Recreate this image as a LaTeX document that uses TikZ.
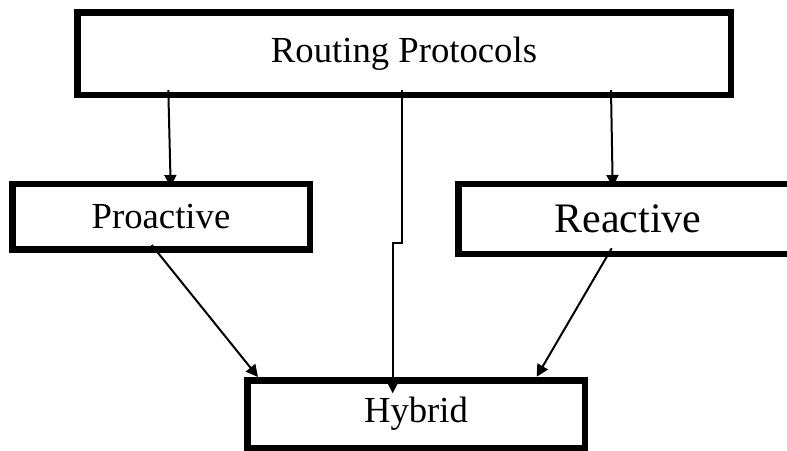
\documentclass[tikz,border=0pt]{standalone}
\usepackage{fontspec}
\setmainfont{Liberation Serif}
\usetikzlibrary{arrows.meta}
\tikzset{
  box/.style={draw=black, line width=6.5pt, rectangle, inner sep=0pt, outer sep=0pt, fill=white},
  arr/.style={draw=black, line width=2pt, -{Triangle[width=12pt,length=12pt]}},
  txt/.style={font=\fontsize{36.7}{44}\selectfont},
  bigtxt/.style={font=\fontsize{42}{50}\selectfont}
}
\begin{document}
\begin{tikzpicture}[x=1pt,y=-1pt]
\useasboundingbox[fill=white] (0,0) rectangle (787,450);
\node[box, txt, minimum width=653.5pt, minimum height=82.5pt] (top) at (404,53.5) {Routing Protocols};
\node[box, txt, minimum width=297.5pt, minimum height=65.5pt] (pro) at (161,216.7) {Proactive};
\node[box, bigtxt, minimum width=339.5pt, minimum height=70pt] (rea) at (628,219) {Reactive};
\node[box, txt, minimum width=337.5pt, minimum height=67.5pt] (hyb) at (416,414) {Hybrid};
\draw[arr] ([xshift=-235.7pt,yshift=4.75pt]top.south) -- ([xshift=9.7pt,yshift=-3pt]pro.north);
\draw[arr] ([xshift=207pt,yshift=4.75pt]top.south) -- ([xshift=-15.3pt,yshift=-3pt]rea.north);
\draw[arr] ([xshift=-1.7pt,yshift=4.75pt]top.south) -- ++(0,152.7) -| ([xshift=-23.3pt,yshift=-13pt]hyb.north);
\draw[arr] ([xshift=-9.3pt,yshift=4.45pt]pro.south) -- ([xshift=-158pt,yshift=3.25pt]hyb.north);
\draw[arr] ([xshift=-16.3pt,yshift=5.7pt]rea.south) -- ([xshift=120.7pt,yshift=3.55pt]hyb.north);
\end{tikzpicture}
\end{document}
